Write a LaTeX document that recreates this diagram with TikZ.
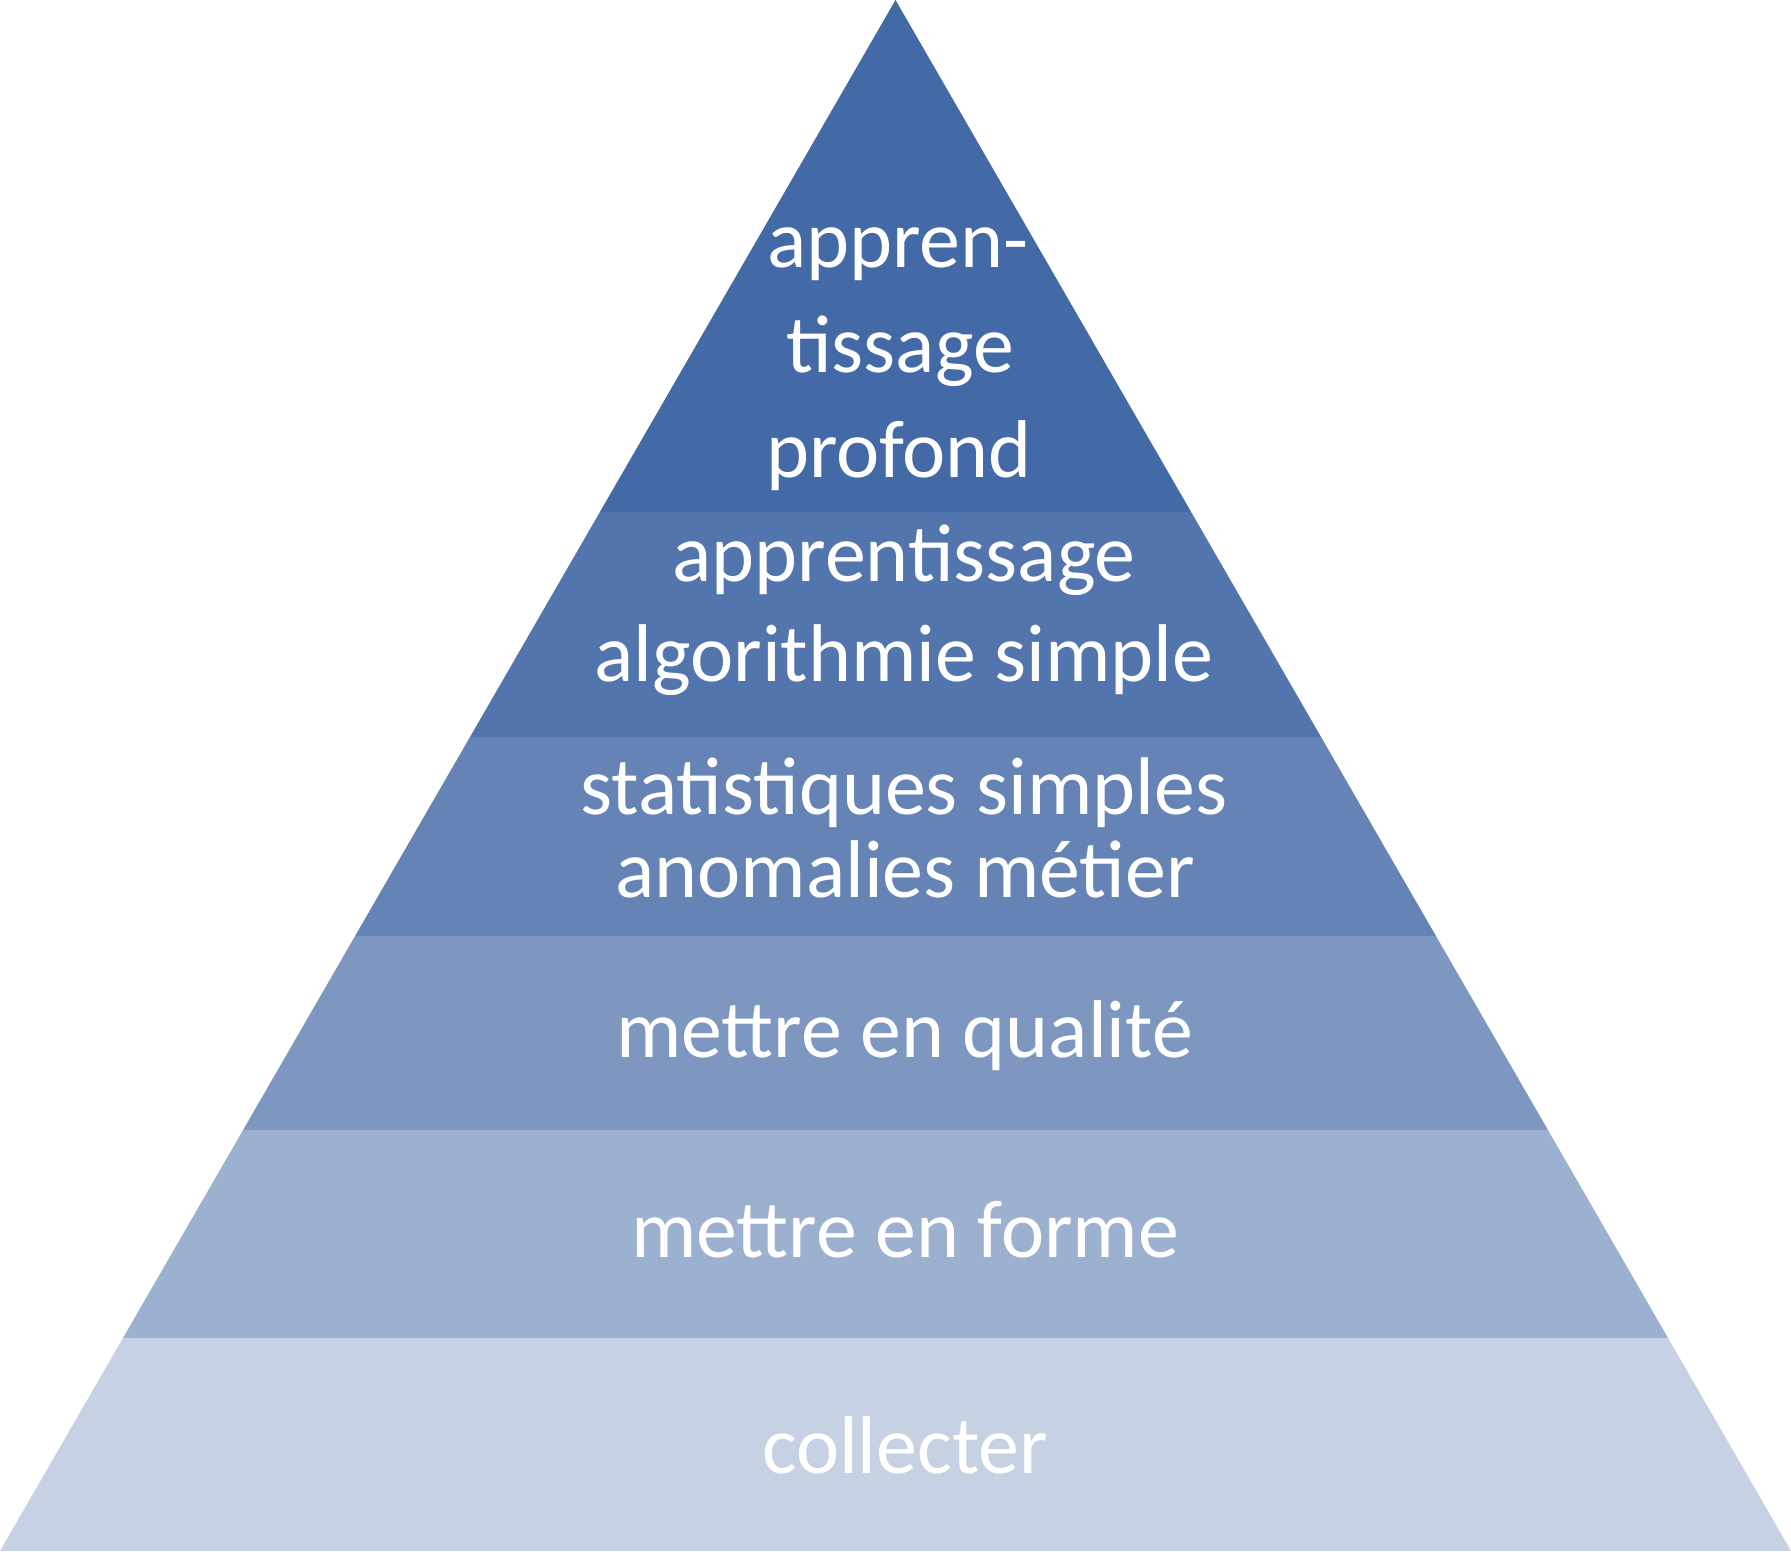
\documentclass[tikz,border=0pt]{standalone}
\usepackage{fontspec}
\setmainfont{Carlito}
\definecolor{level1}{RGB}{67,106,166}
\definecolor{level2}{RGB}{82,117,173}
\definecolor{level3}{RGB}{101,131,181}
\definecolor{level4}{RGB}{125,151,192}
\definecolor{level5}{RGB}{156,176,207}
\definecolor{level6}{RGB}{198,210,228}
\tikzset{lvltext/.style={text=white, font=\fontsize{23.3}{28}\selectfont, anchor=base, inner sep=0pt}}
\begin{document}
\begin{tikzpicture}
\useasboundingbox (0,0) rectangle (17.91,15.51);
\begin{scope}
\clip (0,0) -- (8.955,15.51) -- (17.91,0) -- cycle;
\fill[level1] (0,10.39) rectangle (17.91,15.51);
\fill[level2] (0,8.14) rectangle (17.91,10.39);
\fill[level3] (0,6.15) rectangle (17.91,8.14);
\fill[level4] (0,4.21) rectangle (17.91,6.15);
\fill[level5] (0,2.13) rectangle (17.91,4.21);
\fill[level6] (0,0) rectangle (17.91,2.13);
\end{scope}
\node[lvltext] (deep1) at (8.98,12.835){appren-};
\node[lvltext] (deep2) at (9.00,11.78){tissage};
\node[lvltext] (deep3) at (8.99,10.73){profond};
\node[lvltext] (learn) at (9.04,9.69){apprentissage};
\node[lvltext] (algo) at (9.04,8.69){algorithmie simple};
\node[lvltext] (stats) at (9.04,7.36){statistiques simples};
\node[lvltext] (anom) at (9.05,6.53){anomalies métier};
\node[lvltext] (quality) at (9.045,4.93){mettre en qualité};
\node[lvltext] (shape) at (9.05,2.93){mettre en forme};
\node[lvltext] (collect) at (9.05,0.78){collecter};
\end{tikzpicture}
\end{document}
